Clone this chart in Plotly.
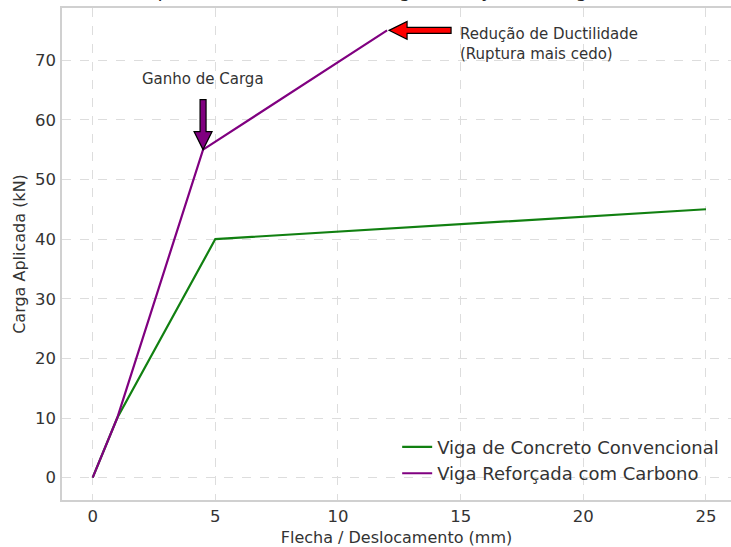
import plotly.graph_objects as go

# Data
deslocamento_conv = [0, 1, 5, 25]
carga_conv = [0, 10, 40, 45]
deslocamento_ref = [0, 1, 4.5, 12]
carga_ref = [0, 10, 55, 75]

x_ticks = [0, 5, 10, 15, 20, 25]
y_ticks = [0, 10, 20, 30, 40, 50, 60, 70]

titulo = "Comportamento Estrutural: Viga Reforçada vs Viga Comum"
nome_conv = "Viga de Concreto Convencional"
nome_ref = "Viga Reforçada com Carbono"
txt_ganho = "Ganho de Carga"
txt_ductil = "Redução de Ductilidade<br>(Ruptura mais cedo)"

ponto_ganho = (4.5, 55)
texto_ganho = (4.5, 65)
ponto_ruptura = (12, 75)
texto_ruptura = (15, 70)

FONT = "DejaVu Sans"
GREEN = "#118011"
PURPLE = "#800080"
TXT = "#333333"

fig = go.Figure()
fig.add_trace(go.Scatter(x=deslocamento_conv, y=carga_conv, mode="lines",
                         name=nome_conv, line=dict(color=GREEN, width=2.2)))
fig.add_trace(go.Scatter(x=deslocamento_ref, y=carga_ref, mode="lines",
                         name=nome_ref, line=dict(color=PURPLE, width=2.2)))

# Block arrows drawn as pixel-sized shapes anchored at the data points
seta_baixo = "M 0,0 L -9,18 L -3,18 L -3,50 L 3,50 L 3,18 L 9,18 Z"
seta_esq = "M 2,0 L 20,9 L 20,3 L 64,3 L 64,-3 L 20,-3 L 20,-9 Z"
fig.add_shape(type="path", xref="x", yref="y", xsizemode="pixel", ysizemode="pixel",
              xanchor=ponto_ganho[0], yanchor=ponto_ganho[1], path=seta_baixo,
              fillcolor=PURPLE, line=dict(color="black", width=1.2), layer="above")
fig.add_shape(type="path", xref="x", yref="y", xsizemode="pixel", ysizemode="pixel",
              xanchor=ponto_ruptura[0], yanchor=ponto_ruptura[1], path=seta_esq,
              fillcolor="#ff0000", line=dict(color="black", width=1.2), layer="above")

annotations = [
    dict(x=texto_ganho[0], y=texto_ganho[1], xref="x", yref="y",
         text=txt_ganho, showarrow=False, yanchor="bottom",
         font=dict(family=FONT, size=15, color=TXT)),
    dict(x=texto_ruptura[0], y=texto_ruptura[1], xref="x", yref="y",
         text=txt_ductil, showarrow=False, xanchor="left", yanchor="bottom",
         align="left", xshift=-3, yshift=-5,
         font=dict(family=FONT, size=15, color=TXT)),
    # Title (cut off at top of image, as in the reference)
    dict(x=0.5, y=1, xref="paper", yref="paper", text=titulo,
         showarrow=False, yanchor="bottom", yshift=5,
         font=dict(family=FONT, size=19, color="#222222")),
]

fig.update_layout(
    width=731, height=547,
    margin=dict(l=62, r=0, t=8, b=47),
    paper_bgcolor="white", plot_bgcolor="white",
    font=dict(family=FONT, size=16, color=TXT),
    showlegend=True,
    legend=dict(x=0.501, y=0.017, xanchor="left", yanchor="bottom",
                bgcolor="rgba(0,0,0,0)", font=dict(family=FONT, size=18, color=TXT),
                tracegroupgap=0),
    annotations=annotations,
)
axis_common = dict(showgrid=True, gridcolor="#dddddd", griddash="dash", gridwidth=1,
                   zeroline=False, showline=True, linecolor="#d0d0d0", linewidth=1.5,
                   mirror=True, ticks="", automargin=False,
                   tickfont=dict(family=FONT, size=16.5, color=TXT))
fig.update_xaxes(range=[-1.25, 26.02], tickvals=x_ticks,
                 title=dict(text="Flecha / Deslocamento (mm)", standoff=8,
                            font=dict(family=FONT, size=16, color=TXT)),
                 **axis_common)
fig.update_yaxes(range=[-3.75, 78.75], tickvals=y_ticks, ticklabelstandoff=1,
                 title=dict(text="Carga Aplicada (kN)", standoff=5,
                            font=dict(family=FONT, size=16, color=TXT)),
                 **axis_common)

fig.write_html("out.html", config={"displayModeBar": False},
               post_script="document.body.style.margin='0px';")
